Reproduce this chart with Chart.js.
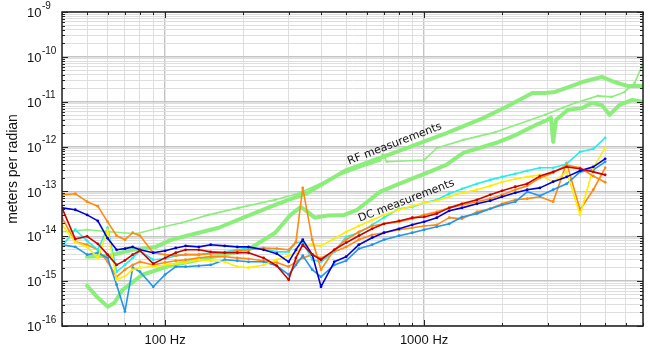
<!DOCTYPE html>
<html>
<head>
<meta charset="utf-8">
<script src="https://cdn.jsdelivr.net/npm/chart.js@4"></script>
<style>
  html, body { margin: 0; padding: 0; background: #fff; }
  #wrap { width: 650px; height: 347px; }
</style>
</head>
<body>
<div id="wrap"><canvas id="chart" width="650" height="347"></canvas></div>
<script>
// DC measurements: all share one frequency grid (Hz)
const dcFreqs = [40, 45, 50, 55, 60, 65, 70, 75, 80, 90,
  100, 110, 120, 135, 150, 170, 190, 210, 240, 270,
  300, 320, 340, 370, 400, 450, 500, 560, 630, 700,
  800, 900, 1000, 1120, 1250, 1400, 1600, 1800, 2000, 2250,
  2500, 2800, 3150, 3550, 4000, 4500, 5000];

const dcBlue = [4.3e-14, 3.9e-14, 3.0e-14, 2.2e-14, 9.0e-15, 5.0e-15, 5.3e-15, 5.8e-15, 5.0e-15, 4.3e-15,
  4.75e-15, 5.5e-15, 6.1e-15, 5.8e-15, 6.5e-15, 6.1e-15, 5.8e-15, 5.8e-15, 5.0e-15, 4.1e-15,
  2.7e-15, 5.0e-15, 8.4e-15, 3.9e-15, 7.5e-16, 2.7e-15, 3.5e-15, 6.5e-15, 9.3e-15, 1.2e-14,
  1.47e-14, 1.8e-14, 2.1e-14, 2.6e-14, 3.7e-14, 4.3e-14, 5.3e-14, 6.2e-14, 7.6e-14, 9.3e-14,
  1.09e-13, 1.2e-13, 1.65e-13, 2.11e-13, 2.9e-13, 3.53e-13, 5.32e-13];
const dcSky = [6.5e-15, 5.8e-15, 3.9e-15, 4.3e-15, 3.3e-15, 8.3e-16, 2.1e-16, 2.0e-15, 1.62e-15, 7.5e-16,
  1.4e-15, 2.1e-15, 2.1e-15, 2.2e-15, 2.3e-15, 3.0e-15, 2.85e-15, 2.7e-15, 2.7e-15, 2.2e-15,
  1.39e-15, 2.3e-15, 3.7e-15, 1.8e-15, 1.25e-15, 2.3e-15, 2.85e-15, 5.3e-15, 6.5e-15, 8.4e-15,
  1.03e-14, 1.2e-14, 1.4e-14, 1.63e-14, 1.9e-14, 2.7e-14, 3.2e-14, 4.1e-14, 5.0e-14, 5.9e-14,
  9.8e-14, 8.0e-14, 1.09e-13, 1.48e-13, 2.73e-13, 3.03e-13, 4.56e-13];
const dcRed = [4.3e-14, 8.7e-15, 1.0e-14, 6.8e-15, 3.9e-15, 2.3e-15, 2.9e-15, 3.9e-15, 4.75e-15, 2.45e-15,
  3.3e-15, 4.3e-15, 5.0e-15, 5.0e-15, 4.5e-15, 4.3e-15, 4.3e-15, 4.3e-15, 3.3e-15, 2.2e-15,
  1.07e-15, 3.3e-15, 6.5e-15, 3.9e-15, 3.0e-15, 5.0e-15, 7.2e-15, 1.03e-14, 1.47e-14, 1.9e-14,
  2.2e-14, 2.6e-14, 2.7e-14, 3.2e-14, 4.3e-14, 5.3e-14, 6.5e-14, 8.4e-14, 1.03e-13, 1.27e-13,
  1.48e-13, 2.2e-13, 2.73e-13, 3.53e-13, 3.2e-13, 2.73e-13, 2.34e-13];
const dcCyan = [6.1e-15, 1.4e-14, 7.9e-15, 5.0e-15, 1.55e-14, 1.62e-15, 2.3e-15, 3.3e-15, 4.75e-15, 3.0e-15,
  3.15e-15, 3.7e-15, 3.9e-15, 3.9e-15, 4.3e-15, 4.5e-15, 5.0e-15, 5.5e-15, 5.3e-15, 4.5e-15,
  4.5e-15, 7.2e-15, 7.5e-15, 3.0e-15, 2.7e-15, 4.5e-15, 9.7e-15, 1.2e-14, 1.8e-14, 2.6e-14,
  4.1e-14, 4.5e-14, 5.6e-14, 6.5e-14, 8.9e-14, 1.14e-13, 1.48e-13, 1.81e-13, 2.11e-13, 2.47e-13,
  2.88e-13, 3.36e-13, 3.36e-13, 4.1e-13, 7.6e-13, 8.9e-13, 1.56e-12];
const dcYellow = [1.8e-14, 7.5e-15, 5.8e-15, 3.3e-15, 1.4e-14, 1.07e-15, 1.3e-15, 1.8e-15, 2.0e-15, 2.1e-15,
  2.3e-15, 2.45e-15, 2.6e-15, 3.0e-15, 2.85e-15, 2.7e-15, 2.1e-15, 2.0e-15, 2.3e-15, 3.0e-15,
  3.7e-15, 4.3e-15, 6.1e-15, 6.5e-15, 6.1e-15, 8.8e-15, 1.26e-14, 1.7e-14, 2.3e-14, 3.0e-14,
  3.9e-14, 4.7e-14, 5.6e-14, 6.2e-14, 7.6e-14, 9.3e-14, 1.09e-13, 1.33e-13, 1.63e-13, 1.9e-13,
  2.11e-13, 2.34e-13, 1.63e-13, 2.73e-13, 3.0e-14, 3.36e-13, 9.35e-13];
const dcOrangeA = [8.4e-14, 8.9e-14, 5.9e-14, 4.7e-14, 2.1e-14, 1.03e-14, 8.4e-15, 1.2e-14, 1.03e-14, 4.3e-15,
  3.9e-15, 3.7e-15, 3.9e-15, 3.9e-15, 4.1e-15, 4.3e-15, 4.75e-15, 5.0e-15, 5.5e-15, 5.3e-15,
  5.0e-15, 7.5e-15, 1.2e-13, 8.4e-15, 1.8e-15, 5.0e-15, 8.4e-15, 1.26e-14, 1.7e-14, 1.9e-14,
  2.1e-14, 2.45e-14, 3.0e-14, 3.5e-14, 4.3e-14, 5.0e-14, 5.9e-14, 6.9e-14, 8.4e-14, 1.09e-13,
  1.33e-13, 2.0e-13, 2.6e-13, 3.9e-13, 3.36e-13, 2.2e-13, 1.6e-13];
const dcOrangeB = [2.6e-14, 7.5e-15, 6.5e-15, 5.0e-15, 2.7e-15, 1.25e-15, 1.8e-15, 2.3e-15, 2.7e-15, 2.3e-15,
  2.6e-15, 2.85e-15, 3.0e-15, 3.3e-15, 3.5e-15, 3.5e-15, 3.3e-15, 3.15e-15, 2.85e-15, 2.6e-15,
  2.1e-15, 2.7e-15, 3.3e-15, 3.9e-15, 3.3e-15, 4.5e-15, 5.8e-15, 8.4e-15, 1.08e-14, 1.2e-14,
  1.4e-14, 1.55e-14, 1.7e-14, 1.8e-14, 2.6e-14, 2.45e-14, 3.5e-14, 4.1e-14, 5.3e-14, 6.5e-14,
  6.9e-14, 7.6e-14, 5.9e-14, 4.33e-13, 3.9e-14, 1.09e-13, 3.36e-13];

// RF measurements
const rfThickFreqs = [50, 61, 75, 92, 106, 135, 161, 204, 266, 355, 495, 783, 1220, 1690, 2070, 2620, 2930, 3200, 3590, 4080, 4850, 5430, 6090, 6960];
const rfThickVals = [3.5e-15, 3.7e-15, 5.0e-15, 5.8e-15, 8.4e-15, 1.2e-14, 1.55e-14, 2.7e-14, 5.0e-14, 9.3e-14, 2.9e-13, 7.6e-13, 2.0e-12, 4.3e-12, 7.6e-12, 1.56e-11, 1.56e-11, 1.65e-11, 2.1e-11, 2.75e-11, 3.56e-11, 2.75e-11, 2.25e-11, 2.25e-11];
const rfThinFreqs = [40, 50, 61, 77.5, 95, 116, 147, 192, 266, 325, 462, 603, 675, 693, 718, 1000, 1120, 1420, 1890, 2930, 3820, 4690, 5290, 5940, 6490, 6960];
const rfThinVals = [1.26e-14, 1.4e-14, 1.26e-14, 1.14e-14, 1.55e-14, 2.0e-14, 3.0e-14, 4.3e-14, 6.5e-14, 8.9e-14, 2.2e-13, 3.9e-13, 4.8e-13, 6.6e-13, 4.6e-13, 5.0e-13, 9.3e-13, 1.41e-12, 2.1e-12, 5.1e-12, 9.4e-12, 1.35e-11, 1.28e-11, 1.65e-11, 2.6e-11, 6.6e-11];
const rfLowFreqs = [50, 54.5, 60, 63.8, 68.5, 81.7, 104, 147, 209, 266, 305, 334, 355, 378, 424, 492, 551, 618, 675, 783, 935, 1048, 1217, 1417, 1890, 2253, 2686, 2985, 3090, 3150, 3230, 3590, 4080, 4440, 4850, 5200, 5680, 6370, 6960];
const rfLowVals = [7.9e-16, 4.5e-16, 2.7e-16, 3.3e-16, 6.4e-16, 1.39e-15, 2.2e-15, 3.3e-15, 5.0e-15, 1.2e-14, 3.0e-14, 4.5e-14, 3.5e-14, 2.6e-14, 2.9e-14, 3.0e-14, 3.9e-14, 6.5e-14, 9.8e-14, 1.4e-13, 2.1e-13, 2.74e-13, 3.9e-13, 7.24e-13, 1.2e-12, 1.8e-12, 3.0e-12, 3.9e-12, 4.4e-12, 1.27e-12, 3.9e-12, 6.6e-12, 7.2e-12, 9.4e-12, 8.5e-12, 5.1e-12, 8.5e-12, 1.1e-11, 1.0e-11];

// axis ticks
const xTickVals = [40, 50, 60, 70, 80, 90, 100, 200, 300, 400, 500, 600, 700, 800, 900, 1000, 2000, 3000, 4000, 5000, 6000, 7000];
const xTickLabels = { 100: "100 Hz", 1000: "1000 Hz" };
const yDecades = [-16, -15, -14, -13, -12, -11, -10, -9];

// text notes, placed in data units
const notes = [
  { text: "RF measurements", freq: 770, value: 1.15e-12, angle: -21 },
  { text: "DC measurements", freq: 855, value: 6.2e-14, angle: -21 }
];

const GREEN = "#8cee7a";
const pts = (fs, vs) => fs.map((f, i) => ({ x: f, y: vs[i] }));

function dcSet(vals, color) {
  return {
    data: pts(dcFreqs, vals),
    borderColor: color,
    backgroundColor: color,
    borderWidth: 1.6,
    pointRadius: 1.4,
    pointBorderWidth: 0,
    pointBackgroundColor: color
  };
}

const yTickVals = [];
yDecades.forEach(e => {
  if (e === -9) { yTickVals.push(1e-9); return; }
  for (let s = 1; s <= 9; s++) yTickVals.push(s * Math.pow(10, e));
});

const gridColor = c => (c.tick && c.tick.major ? "#c4c4c4" : "#dedede");
const gridWidth = c => (c.tick && c.tick.major ? 1.4 : 1);

const frame = {
  id: "frame",
  afterDraw(chart) {
    const { ctx, chartArea: a, scales } = chart;
    const x = scales.x, y = scales.y;
    ctx.save();
    ctx.strokeStyle = "#222";
    ctx.lineWidth = 1;
    ctx.beginPath();
    x.ticks.forEach(t => {
      const px = Math.round(x.getPixelForValue(t.value)) + 0.5;
      const len = t.major ? 6 : 3;
      ctx.moveTo(px, a.bottom); ctx.lineTo(px, a.bottom - len);
      ctx.moveTo(px, a.top); ctx.lineTo(px, a.top + len);
    });
    y.ticks.forEach(t => {
      const py = Math.round(y.getPixelForValue(t.value)) + 0.5;
      const len = t.major ? 6 : 3;
      ctx.moveTo(a.left, py); ctx.lineTo(a.left + len, py);
      ctx.moveTo(a.right, py); ctx.lineTo(a.right - len, py);
    });
    ctx.stroke();
    ctx.lineWidth = 1.5;
    ctx.strokeRect(a.left, a.top, a.right - a.left, a.bottom - a.top);

    // y labels 10^n
    ctx.fillStyle = "#111";
    ctx.textAlign = "left";
    ctx.textBaseline = "middle";
    yDecades.forEach(e => {
      const py = y.getPixelForValue(Math.pow(10, e));
      ctx.font = '13px "Liberation Sans", Arial, sans-serif';
      ctx.fillText("10", 27, py + 1.5);
      const w = ctx.measureText("10").width;
      ctx.font = '10px "Liberation Sans", Arial, sans-serif';
      ctx.fillText("-" + Math.abs(e), 27 + w + 0.5, py - 6);
    });

    // notes
    ctx.font = '11px "DejaVu Sans", sans-serif';
    ctx.textAlign = "center";
    notes.forEach(n => {
      const px = x.getPixelForValue(n.freq), py = y.getPixelForValue(n.value);
      ctx.save();
      ctx.translate(px, py);
      ctx.rotate(n.angle * Math.PI / 180);
      ctx.fillText(n.text, 0, 0);
      ctx.restore();
    });
    ctx.restore();
  }
};

new Chart(document.getElementById("chart"), {
  type: "line",
  data: {
    datasets: [
      dcSet(dcRed, "#cc0000"),
      dcSet(dcBlue, "#0000d8"),
      dcSet(dcOrangeA, "#ff8a10"),
      dcSet(dcYellow, "#ffee00"),
      dcSet(dcCyan, "#22eeee"),
      dcSet(dcSky, "#1e96f0"),
      dcSet(dcOrangeB, "#ff8a10"),
      {
        data: pts(rfThinFreqs, rfThinVals),
        borderColor: GREEN, borderWidth: 1.6,
        pointRadius: 1.3, pointBorderWidth: 0, pointBackgroundColor: GREEN
      },
      {
        data: pts(rfThickFreqs, rfThickVals),
        borderColor: GREEN, borderWidth: 4, pointRadius: 0
      },
      {
        data: pts(rfLowFreqs, rfLowVals),
        borderColor: GREEN, borderWidth: 4, pointRadius: 0
      }
    ]
  },
  options: {
    responsive: false,
    devicePixelRatio: 1,
    animation: false,
    events: [],
    layout: { padding: { top: 12, right: 2, left: 0, bottom: 0 } },
    elements: { line: { tension: 0, borderJoinStyle: "round", borderCapStyle: "round" } },
    plugins: { legend: { display: false }, tooltip: { enabled: false } },
    scales: {
      x: {
        type: "logarithmic",
        min: 40,
        max: 7000,
        afterBuildTicks: s => { s.ticks = xTickVals.map(v => ({ value: v, major: v === 100 || v === 1000 })); },
        afterFit: s => { s.height = 21; },
        border: { display: false },
        grid: { color: gridColor, lineWidth: gridWidth, drawTicks: false },
        ticks: {
          autoSkip: false,
          maxRotation: 0,
          padding: 7,
          color: "#111",
          font: { family: '"Liberation Sans", Arial, sans-serif', size: 13 },
          callback: v => xTickLabels[v] || ""
        }
      },
      y: {
        type: "logarithmic",
        min: 1e-16,
        max: 1e-9,
        afterBuildTicks: s => { s.ticks = yTickVals.map(v => ({ value: v, major: Math.abs(Math.log10(v) - Math.round(Math.log10(v))) < 1e-6 })); },
        afterFit: s => { s.width = 62; },
        border: { display: false },
        grid: { color: gridColor, lineWidth: gridWidth, drawTicks: false },
        ticks: { display: false },
        title: {
          display: true,
          text: "meters per radian",
          color: "#111",
          padding: { top: 5, bottom: 0 },
          font: { family: '"Liberation Sans", Arial, sans-serif', size: 14 }
        }
      }
    }
  },
  plugins: [frame]
});
</script>
</body>
</html>
